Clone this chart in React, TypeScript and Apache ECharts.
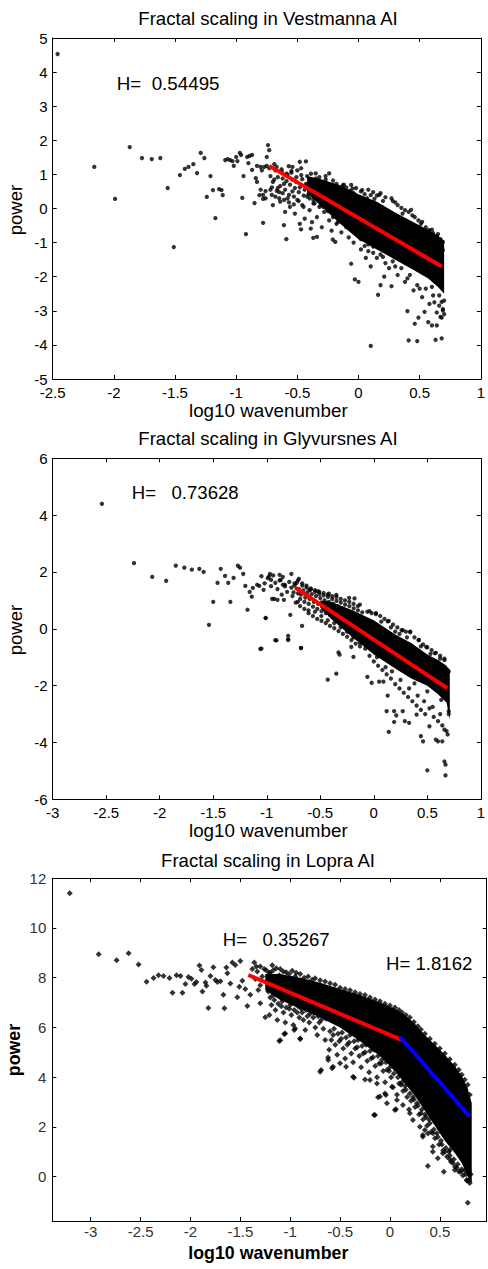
import React, { useEffect, useRef } from "react";
import * as echarts from "echarts";

// ---------- Panel 1: Vestmanna ----------
const p1Title = "Fractal scaling in Vestmanna AI";
const p1H = "H=  0.54495";
const p1XTicks = [-2.5, -2, -1.5, -1, -0.5, 0, 0.5, 1];
const p1YTicks = [-5, -4, -3, -2, -1, 0, 1, 2, 3, 4, 5];
const p1Points = [
  [-2.46, 4.53], [-2.16, 1.22], [-1.99, 0.28], [-1.87, 1.8], [-1.77, 1.48], [-1.69, 1.45], [-1.62, 1.48],
  [-1.56, 0.6], [-1.51, -1.13], [-1.46, 0.98], [-1.42, 1.16], [-1.39, 1.22], [-1.35, 1.3], [-1.32, 1.04],
  [-1.29, 1.63], [-1.26, 1.48], [-1.24, 0.34], [-1.21, 0.95], [-1.19, 0.54], [-1.17, -0.28], [-1.14, 0.57],
  [-1.12, 0.54], [-1.11, 0.39], [-1.09, 1.42], [-1.07, 1.45], [-1.05, 1.42], [-1.03, 1.39], [-1.02, 1.25],
  [-1.0, 1.51], [-0.99, 1.39], [-0.97, 1.63], [-0.96, 1.57], [-0.94, 0.95], [-0.95, 0.31], [-0.92, -0.75],
  [-0.91, 1.51], [-0.89, 1.54], [-0.9, 1.33], [-0.87, 1.57], [-0.87, 1.13], [-0.85, 0.16], [-0.84, 0.89],
  [-0.83, 0.78], [-0.83, 1.25], [-0.81, 0.39], [-0.8, 1.22], [-0.78, -0.42], [-0.78, 0.28], [-0.77, 1.22],
  [-0.76, 0.51], [-0.75, 1.51], [-0.74, 1.86], [-0.73, 1.71], [-0.75, 1.25], [-0.79, 1.12],
  [-0.59, -0.9], [-0.61, -0.49], [-0.47, -0.61], [-0.39, -0.59], [-0.37, -0.86], [-0.34, -0.83],
  [-0.21, -0.91], [-0.19, -0.98], [-0.06, -1.62], [-0.03, -2.08], [0.0, -2.15], [0.1, -4.03],
  [0.16, -2.53], [0.18, -2.25], [0.21, -2.0], [0.27, -2.28], [0.4, -3.01], [0.41, -3.87], [0.48, -3.89],
  [0.46, -3.38], [0.49, -3.2], [0.54, -3.03], [0.57, -3.33], [0.6, -3.43], [0.64, -3.43], [0.63, -3.85],
  [0.68, -3.81], [0.68, -2.74], [0.69, -2.99], [0.67, -3.18],
  [-0.48, 1.37], [-0.35, 1.03], [-0.24, 1.03], [-0.06, 0.69], [0.03, 0.54], [0.17, 0.4], [0.27, 0.3],
  [0.43, -0.04], [0.52, -0.39], [0.65, -0.92], [0.69, -1.22], [-0.57, 1.24], [-0.54, 1.22], [-0.43, 1.38],
  [-0.12, 0.7], [0.1, 0.39], [0.38, -0.05], [0.57, -0.64], [0.64, -0.82],
  [-0.72, 0.95], [-0.708, 0.62], [-0.729, 1.18], [-0.7, 0.78], [-0.688, 1.3], [-0.709, 0.4],
  [-0.68, 1.12], [-0.668, 0.52], [-0.689, 0.85], [-0.66, 0.92], [-0.648, 0.3], [-0.669, 1.22],
  [-0.64, 0.66], [-0.628, 1.08], [-0.649, 0.48], [-0.62, 0.88], [-0.608, 0.25], [-0.629, 1.15],
  [-0.6, 0.55], [-0.588, 1.02], [-0.609, 0.72], [-0.58, 0.98], [-0.568, 0.4], [-0.589, 0.8],
  [-0.56, 0.7], [-0.548, 1.1], [-0.569, 0.18], [-0.54, 0.85], [-0.528, 0.35], [-0.549, 1.05],
  [-0.52, 0.6], [-0.508, 0.92], [-0.529, 0.12], [-0.5, 1.12], [-0.488, 0.48], [-0.509, 0.78],
  [-0.48, 0.62], [-0.468, 0.98], [-0.489, 0.22], [-0.46, 0.86], [-0.448, 0.38], [-0.469, 1.18],
  [-0.44, 0.55], [-0.428, 0.72], [-0.449, 0.05], [-0.42, 0.95], [-0.408, 0.42], [-0.429, 0.68],
  [-0.4, 0.3], [-0.388, 0.82], [-0.409, 0.58], [-0.38, 0.7], [-0.368, 0.15], [-0.389, 1.02],
  [-0.36, 0.48], [-0.348, 0.88], [-0.369, 0.25], [-0.34, 0.62], [-0.328, 0.35], [-0.349, 0.8],
  [-0.32, 0.92], [-0.308, 0.1], [-0.329, 0.5], [-0.3, 0.65], [-0.288, 0.28], [-0.309, 0.78],
  [-0.28, 0.42], [-0.268, 0.85], [-0.289, 0.05], [-0.26, 0.58], [-0.248, 0.22], [-0.269, 0.95],
  [-0.24, 0.7], [-0.228, 0.38], [-0.249, -0.08], [-0.22, 0.48], [-0.208, 0.82], [-0.229, 0.15],
  [-0.2, 0.3], [-0.188, 0.62], [-0.209, -0.25], [-0.18, 0.72], [-0.168, 0.05], [-0.189, 0.45],
  [-0.16, 0.55], [-0.148, 0.25], [-0.169, -0.4], [-0.14, 0.38], [-0.128, 0.68], [-0.149, 0.02],
  [-0.12, 0.5], [-0.108, -0.15], [-0.129, 0.28], [-0.1, 0.62], [-0.088, 0.1], [-0.109, -0.35],
  [-0.08, 0.35], [-0.068, 0.52], [-0.089, -0.05], [-0.06, 0.2], [-0.048, 0.58], [-0.069, -0.5],
  [-0.04, 0.45], [-0.028, 0.0], [-0.049, 0.28], [-0.02, 0.6], [-0.008, -0.22], [-0.029, 0.38],
  [0.0, 0.3], [0.012, 0.1], [-0.009, -0.6], [0.02, 0.5], [0.032, 0.18], [0.011, -0.3],
  [-0.8, 0.55], [-0.78, 0.4], [-0.76, 0.3], [-0.72, 0.55], [-0.7, 0.1], [-0.68, 0.35], [-0.66, 0.6],
  [-0.64, 0.2], [-0.62, 0.45], [-0.6, -0.1], [-0.58, 0.3], [-0.56, 0.05], [-0.54, 0.5], [-0.52, -0.15],
  [-0.5, 0.25], [-0.48, -0.45], [-0.46, 0.1], [-0.44, -0.3], [-0.42, 0.35], [-0.4, -0.05], [-0.38, -0.4],
  [-0.36, 0.15], [-0.34, -0.25], [-0.32, 0.05], [-0.3, -0.55], [-0.28, -0.1], [-0.26, 0.1], [-0.24, -0.35],
  [-0.22, -0.65], [-0.2, -0.15], [-0.18, -0.45], [-0.16, 0.0], [-0.14, -0.7], [-0.12, -0.3], [-0.1, -0.55],
  [-0.08, -0.85], [-0.06, -0.2], [-0.04, -1.0], [-0.02, -0.6], [0.0, -0.35], [0.02, -1.2], [0.04, -0.8],
  [0.06, -1.45], [0.08, -1.05], [0.1, -1.7], [0.12, -1.3],
  [0.05, 0.42], [0.08, 0.55], [0.12, 0.48], [0.15, 0.38], [0.18, 0.45], [0.22, 0.33], [0.28, 0.22],
  [0.32, 0.1], [0.35, 0.02], [0.41, -0.1], [0.46, -0.25], [0.49, -0.35], [0.55, -0.55], [0.58, -0.64],
  [0.61, -0.72], [0.67, -0.9], [0.69, -0.98], [0.07, 0.3], [0.13, 0.28], [0.2, 0.22], [0.3, 0.18],
  [0.36, -0.15], [0.44, -0.2], [0.51, -0.45], [0.6, -0.62], [0.65, -0.75],
  [0.02, -0.9], [0.05, -1.1], [0.08, -1.25], [0.15, -1.45], [0.18, -1.35], [0.22, -1.6], [0.25, -1.75],
  [0.28, -1.55], [0.32, -1.95], [0.35, -1.75], [0.38, -2.15], [0.42, -1.95], [0.45, -2.4], [0.48, -2.25],
  [0.52, -2.6], [0.55, -2.35], [0.58, -2.8], [0.61, -2.55], [0.64, -3.05], [0.66, -2.85], [0.68, -3.2],
  [0.69, -2.95], [0.7, -3.1], [0.12, -1.12], [0.2, -1.42], [0.3, -1.7], [0.4, -2.05], [0.5, -2.35],
  [0.6, -2.3], [0.66, -2.55], [0.7, -2.7], [0.62, -2.75]
];
const p1CoreX = [-0.42, -0.3, -0.15, 0.0, 0.15, 0.3, 0.45, 0.57, 0.65, 0.7];
const p1CoreTop = [0.95, 0.85, 0.68, 0.42, 0.2, -0.12, -0.4, -0.63, -0.8, -0.95];
const p1CoreBottom = [0.45, 0.05, -0.45, -0.9, -1.2, -1.5, -1.8, -2.05, -2.3, -2.5];
const p1Fit = [[-0.73, 1.25], [0.68, -1.7]];

// ---------- Panel 2: Glyvursnes ----------
const p2Title = "Fractal scaling in Glyvursnes AI";
const p2H = "H=   0.73628";
const p2XTicks = [-3, -2.5, -2, -1.5, -1, -0.5, 0, 0.5, 1];
const p2YTicks = [-6, -4, -2, 0, 2, 4, 6];
const p2Points = [
  [-2.54, 4.4], [-2.24, 2.31], [-2.07, 1.83], [-1.94, 1.69], [-1.85, 2.22], [-1.77, 2.15], [-1.7, 2.08],
  [-1.63, 2.11], [-1.59, 2.0], [-1.54, 0.14], [-1.5, 0.95], [-1.46, 1.62], [-1.43, 2.11], [-1.39, 1.86],
  [-1.36, 1.62], [-1.34, 0.95], [-1.31, 1.79], [-1.27, 2.22], [-1.25, 2.15], [-1.22, 1.93], [-1.2, 1.51],
  [-1.18, 0.67], [-1.16, 1.3], [-1.14, 1.13], [-1.13, 1.44], [-1.09, 1.55], [-1.07, 1.51], [-1.05, -0.7],
  [-1.03, 1.37], [-1.01, 0.38], [-0.98, 1.84], [-0.97, 1.93], [-0.96, 1.72], [-0.95, 1.05], [-0.93, 1.05],
  [-0.91, -0.41], [-0.9, 1.02], [-0.88, 1.9], [-0.87, 1.72], [-0.85, 1.55], [-0.84, 1.02], [-0.83, 1.49],
  [-0.8, -0.25], [-0.8, -0.39], [-0.78, 0.49], [-0.77, 1.93], [-0.75, 1.28], [-0.74, 1.52], [-0.7, 1.76],
  [-0.68, -0.68], [-0.67, 0.1],
  [-0.6, 1.37], [-0.35, 1.19], [-0.18, 1.07], [0.02, 0.55], [0.2, -0.1], [0.34, -0.1], [0.42, -0.39],
  [0.57, -0.86], [0.66, -1.1], [0.69, -1.45], [-0.52, 1.32], [-0.42, 1.24], [-0.23, 1.09], [-0.13, 0.85],
  [-0.04, 0.62], [0.13, 0.26], [0.27, -0.05], [0.49, -0.64],
  [-1.06, -0.71], [-1.01, 0.38], [-0.92, -0.4], [-0.8, -0.38], [-0.68, -0.67], [-0.43, -1.79], [-0.35, -1.58],
  [-0.32, -0.91], [-0.33, -0.83], [-0.21, -0.64], [-0.19, -0.99], [-0.06, -1.69], [-0.02, -1.9], [0.05, -1.86],
  [0.09, -1.86], [0.13, -2.35], [0.12, -2.9], [0.14, -3.63], [0.19, -2.9], [0.19, -3.28], [0.21, -3.05],
  [0.27, -2.9], [0.29, -3.25], [0.33, -3.31], [0.4, -3.02], [0.44, -3.78], [0.46, -3.96], [0.5, -4.98],
  [0.52, -3.43], [0.58, -3.9], [0.6, -3.96], [0.64, -3.96], [0.66, -4.67], [0.67, -4.78], [0.67, -5.16],
  [0.69, -3.72], [0.66, -3.55],
  [-0.72, 1.62], [-0.708, 1.25], [-0.729, 0.92], [-0.7, 1.4], [-0.688, 1.05], [-0.709, 1.7],
  [-0.68, 1.2], [-0.668, 1.52], [-0.689, 0.8], [-0.66, 1.35], [-0.648, 0.95], [-0.669, 1.6],
  [-0.64, 1.1], [-0.628, 1.45], [-0.649, 0.7], [-0.62, 1.28], [-0.608, 0.88], [-0.629, 1.52],
  [-0.6, 1.05], [-0.588, 1.38], [-0.609, 0.55], [-0.58, 1.22], [-0.568, 0.78], [-0.589, 1.42],
  [-0.56, 0.95], [-0.548, 1.3], [-0.569, 0.45], [-0.54, 1.15], [-0.528, 0.7], [-0.549, 1.36],
  [-0.52, 0.88], [-0.508, 1.22], [-0.529, 0.35], [-0.5, 1.08], [-0.488, 0.62], [-0.509, 1.3],
  [-0.48, 0.82], [-0.468, 1.18], [-0.489, 0.28], [-0.46, 1.0], [-0.448, 0.55], [-0.469, 1.26],
  [-0.44, 0.75], [-0.428, 1.12], [-0.449, 0.2], [-0.42, 0.95], [-0.408, 0.48], [-0.429, 1.2],
  [-0.4, 0.68], [-0.388, 1.05], [-0.409, 0.1], [-0.38, 0.88], [-0.368, 0.4], [-0.389, 1.15],
  [-0.36, 0.6], [-0.348, 0.98], [-0.369, 0.02], [-0.34, 0.8], [-0.328, 0.32], [-0.349, 1.12],
  [-0.32, 0.52], [-0.308, 0.92], [-0.329, -0.08], [-0.3, 0.72], [-0.288, 0.25], [-0.309, 1.05],
  [-0.28, 0.45], [-0.268, 0.85], [-0.289, -0.18], [-0.26, 0.65], [-0.248, 0.18], [-0.269, 1.0],
  [-0.24, 0.38], [-0.228, 0.8], [-0.249, -0.28], [-0.22, 0.58], [-0.208, 0.1], [-0.229, 0.95],
  [-0.2, 0.3], [-0.188, 0.72], [-0.209, -0.4], [-0.18, 0.5], [-0.168, 0.02], [-0.189, 0.88],
  [-0.16, 0.22], [-0.148, 0.65], [-0.169, -0.52], [-0.14, 0.42], [-0.128, -0.08], [-0.149, 0.8],
  [-0.12, 0.15], [-0.108, 0.58], [-0.129, -0.62],
  [-1.05, 1.85], [-1.02, 1.6], [-0.99, 1.78], [-0.96, 1.5], [-0.94, 1.88], [-0.92, 1.62], [-0.9, 1.4],
  [-0.88, 1.7], [-0.86, 1.2], [-0.85, 1.83], [-0.83, 1.55], [-0.81, 1.3], [-0.79, 1.65], [-0.77, 1.45],
  [-0.76, 1.15], [-0.74, 1.6], [-0.71, 0.95], [-0.61, 0.65], [-0.55, 0.6], [-0.49, 0.45], [-0.43, 0.3],
  [-0.37, 0.2], [-0.31, 0.05], [-0.25, -0.1], [-0.19, -0.3], [-0.13, -0.5], [-0.1, 0.0], [-0.08, -0.7],
  [-0.06, 0.6], [-0.04, -0.95], [-0.02, 0.55], [0.0, -1.15], [0.02, 0.52], [0.04, -1.3], [0.06, 0.45],
  [0.08, -1.45], [0.1, 0.35], [0.12, -1.6], [0.14, 0.28], [0.16, -1.75], [0.18, 0.15], [0.2, -1.95],
  [0.22, 0.05], [0.24, -2.1], [0.26, -0.05], [0.28, -2.25], [0.3, -0.1], [0.32, -2.4], [0.34, -0.12],
  [0.36, -2.55], [0.38, -0.3], [0.4, -2.7], [0.42, -0.4], [0.44, -2.85], [0.46, -0.55], [0.48, -3.0],
  [0.5, -0.65], [0.52, -2.8], [0.54, -0.75], [0.56, -3.1], [0.58, -0.85], [0.6, -3.25], [0.62, -0.95],
  [0.64, -3.4], [0.66, -1.05], [0.68, -3.6], [0.7, -1.5], [0.7, -3.0], [0.69, -2.5], [0.67, -2.2],
  [0.03, -1.0], [0.11, -1.35], [0.17, -1.5], [0.25, -1.8], [0.33, -2.1], [0.41, -2.35], [0.47, -2.55],
  [0.55, -2.75], [0.62, -3.0], [0.07, 0.25], [0.16, 0.05], [0.24, -0.18], [0.31, -0.3], [0.44, -0.62],
  [0.53, -0.88], [0.62, -1.05], [0.38, -1.92], [0.5, -2.2], [0.63, -2.5], [0.7, -2.9]
];
const p2CoreX = [-0.5, -0.4, -0.2, 0.0, 0.2, 0.35, 0.5, 0.6, 0.68, 0.71];
const p2CoreTop = [1.0, 0.95, 0.65, 0.3, -0.2, -0.5, -0.9, -1.1, -1.3, -1.5];
const p2CoreBottom = [0.75, 0.35, -0.3, -0.9, -1.4, -1.75, -2.0, -2.3, -2.6, -3.2];
const p2Fit = [[-0.735, 1.45], [0.686, -2.09]];

// ---------- Panel 3: Lopra ----------
const p3Title = "Fractal scaling in Lopra AI";
const p3H1 = "H=   0.35267";
const p3H2 = "H= 1.8162";
const p3XTicks = [-3, -2.5, -2, -1.5, -1, -0.5, 0, 0.5];
const p3YTicks = [0, 2, 4, 6, 8, 10, 12];
const p3Points = [
  [-3.21, 11.39], [-2.92, 8.94], [-2.74, 8.7], [-2.62, 8.98], [-2.52, 8.53], [-2.44, 7.84], [-2.37, 7.99],
  [-2.32, 8.1], [-2.27, 8.07], [-2.21, 7.99], [-2.18, 7.4], [-2.14, 8.1], [-2.1, 8.07], [-2.08, 7.4],
  [-2.05, 7.75], [-2.02, 8.03], [-1.99, 7.96], [-1.96, 7.75], [-1.94, 7.83], [-1.91, 8.49], [-1.89, 8.31],
  [-1.88, 7.45], [-1.85, 7.81], [-1.84, 7.68], [-1.82, 6.78], [-1.8, 8.07], [-1.77, 8.42], [-1.75, 7.91],
  [-1.73, 7.83], [-1.7, 7.86], [-1.67, 7.31], [-1.66, 6.77], [-1.64, 8.41], [-1.63, 8.18], [-1.6, 7.77],
  [-1.58, 8.61], [-1.55, 8.51], [-1.53, 7.21], [-1.51, 7.64], [-1.5, 8.67], [-1.48, 7.88], [-1.45, 7.55],
  [-1.43, 6.86], [-1.4, 7.31], [-1.36, 8.61], [-1.34, 8.45], [-1.32, 7.51], [-1.3, 6.97], [-1.25, 6.41],
  [-1.2, 8.2], [-1.16, 7.53], [-1.11, 5.46], [-1.06, 5.74], [-1.0, 7.91], [-0.96, 5.9], [-0.9, 5.54],
  [-0.69, 4.29], [-0.58, 4.36], [-0.62, 4.79], [-0.36, 3.98], [-0.25, 3.91], [-0.16, 2.48], [-0.12, 3.19],
  [-0.04, 3.28], [0.06, 2.71], [0.38, 0.43], [0.48, 0.74], [0.54, 0.2], [0.65, 0.27], [0.74, 0.67],
  [0.78, -1.05], [0.77, -0.13], [0.79, -0.16], [0.43, 1.0], [0.33, 1.68], [0.35, 1.88], [0.6, 0.7],
  [-1.1, 5.49], [-1.05, 5.76], [-0.9, 5.56], [-0.95, 5.96], [-0.7, 4.22], [-0.62, 4.69], [-0.57, 4.42],
  [-0.5, 4.56], [-0.44, 4.42], [-0.37, 4.02], [-0.2, 3.89], [-0.13, 3.75], [-0.1, 3.22], [-0.05, 3.35],
  [-0.03, 2.95], [0.02, 3.62], [0.05, 2.68], [-0.15, 2.48], [0.07, 3.08], [0.13, 2.88], [0.2, 2.55],
  [0.23, 2.28], [0.3, 2.01], [0.33, 1.61], [0.38, 1.74], [0.43, 1.21], [0.53, 0.94], [0.6, 1.07],
  [-1.38, 8.35], [-1.35, 7.95], [-1.33, 8.25], [-1.3, 7.7], [-1.28, 8.05], [-1.26, 8.35], [-1.24, 7.85],
  [-1.22, 7.45], [-1.21, 8.2], [-1.19, 7.65], [-1.17, 8.3], [-1.15, 7.95], [-1.13, 7.3], [-1.11, 8.1],
  [-1.09, 7.55], [-1.07, 8.25], [-1.01, 8.15], [-0.95, 8.05],
  [-1.2, 7.2], [-1.188, 6.9], [-1.209, 6.5], [-1.16, 7.1], [-1.148, 6.7], [-1.169, 7.3],
  [-1.12, 6.95], [-1.108, 7.25], [-1.129, 6.3], [-1.08, 7.05], [-1.068, 6.6], [-1.089, 6.85],
  [-1.04, 6.8], [-1.028, 7.1], [-1.049, 6.2], [-1.0, 6.9], [-0.988, 6.5], [-1.009, 6.75],
  [-0.96, 6.7], [-0.948, 6.95], [-0.969, 6.1], [-0.92, 6.85], [-0.908, 6.4], [-0.929, 6.6],
  [-0.88, 6.6], [-0.868, 6.3], [-0.889, 6.75], [-0.84, 6.7], [-0.828, 6.45], [-0.849, 5.9],
  [-0.8, 6.55], [-0.788, 6.75], [-0.809, 6.2], [-0.76, 6.6], [-0.748, 6.0], [-0.769, 6.4],
  [-0.72, 6.45], [-0.708, 6.2], [-0.729, 5.7], [-0.68, 6.5], [-0.668, 5.95], [-0.689, 6.3],
  [-0.64, 6.35], [-0.628, 6.55], [-0.649, 5.5],
  [-0.6, 5.85], [-0.588, 5.5], [-0.609, 5.1], [-0.56, 5.95], [-0.548, 5.3], [-0.569, 5.7],
  [-0.52, 5.75], [-0.508, 5.45], [-0.529, 4.9], [-0.48, 5.8], [-0.468, 5.15], [-0.489, 5.55],
  [-0.44, 5.6], [-0.428, 5.3], [-0.449, 4.75], [-0.4, 5.7], [-0.388, 4.95], [-0.409, 5.4],
  [-0.36, 5.45], [-0.348, 5.15], [-0.369, 4.6], [-0.32, 5.5], [-0.308, 4.85], [-0.329, 5.2],
  [-0.28, 5.25], [-0.268, 4.95], [-0.289, 4.4], [-0.24, 5.3], [-0.228, 4.65], [-0.249, 5.0],
  [-0.2, 5.05], [-0.188, 4.75], [-0.209, 4.2], [-0.16, 5.1], [-0.148, 4.45], [-0.169, 4.8],
  [-0.12, 4.85], [-0.108, 4.55], [-0.129, 4.0], [-0.08, 4.7], [-0.068, 4.25], [-0.089, 4.55],
  [-0.04, 4.6], [-0.028, 4.3], [-0.049, 3.8], [0.0, 4.4], [0.012, 4.0], [-0.009, 4.25],
  [0.04, 4.15], [0.052, 4.35], [0.031, 3.6], [0.08, 4.0], [0.092, 3.75], [0.071, 3.3],
  [0.12, 3.8], [0.132, 3.45], [0.111, 3.7], [0.16, 3.5], [0.172, 3.2], [0.151, 3.65],
  [0.2, 3.35], [0.212, 3.05], [0.191, 2.7], [0.24, 3.1], [0.252, 2.8], [0.231, 3.2],
  [0.28, 2.85], [0.292, 2.5], [0.271, 2.95], [0.32, 2.7], [0.332, 2.3], [0.311, 2.55],
  [0.36, 2.4], [0.372, 2.05], [0.351, 2.5], [0.4, 2.15], [0.412, 1.8], [0.391, 2.3],
  [0.44, 1.9], [0.452, 1.55], [0.431, 1.75], [0.48, 1.6], [0.492, 1.3], [0.471, 1.75],
  [0.52, 1.3], [0.532, 1.05], [0.511, 1.45], [0.56, 1.15], [0.572, 0.8], [0.551, 1.0],
  [0.6, 0.85], [0.612, 0.6], [0.591, 1.0], [0.64, 0.7], [0.652, 0.4], [0.631, 0.55],
  [0.68, 0.5], [0.692, 0.2], [0.671, 0.35], [0.72, 0.3], [0.732, 0.05], [0.711, 0.2],
  [0.76, 0.1], [0.772, -0.15], [0.751, 0.25], [0.8, -0.25], [0.81, 0.1], [0.79, 0.3],
  [-1.3, 8.45], [-1.18, 8.5], [-1.1, 8.35], [-0.98, 8.28], [-0.9, 8.15], [-0.82, 8.05], [-0.75, 7.98],
  [-0.65, 7.85], [-0.55, 7.72], [-0.45, 7.55], [-0.35, 7.42], [-0.25, 7.3], [-0.15, 7.12], [-0.05, 6.95],
  [0.05, 6.8], [0.12, 6.6], [0.2, 6.4], [0.28, 6.05], [0.35, 5.75], [0.45, 5.35], [0.55, 4.95],
  [0.65, 4.5], [0.72, 4.1], [0.78, 3.7], [-1.24, 8.3], [-1.14, 8.38], [-1.04, 8.22], [-0.94, 8.2],
  [-0.86, 8.0], [-0.78, 7.92], [-0.7, 7.9], [-0.6, 7.78], [-0.5, 7.6], [-0.4, 7.5], [-0.3, 7.35],
  [-0.2, 7.2], [-0.1, 7.05], [0.0, 6.88], [0.09, 6.7], [0.16, 6.5], [0.24, 6.22], [0.31, 5.92],
  [0.4, 5.55], [0.5, 5.15], [0.6, 4.72], [0.69, 4.3], [0.75, 3.9], [0.8, 3.3]
];
const p3CoreX = [-1.25, -1.1, -0.9, -0.7, -0.5, -0.3, -0.1, 0.05, 0.15, 0.25, 0.35, 0.45, 0.55, 0.65, 0.72, 0.78, 0.82];
const p3CoreTop = [8.15, 8.15, 8.0, 7.8, 7.55, 7.3, 7.0, 6.75, 6.5, 6.15, 5.7, 5.3, 4.9, 4.45, 4.05, 3.55, 2.95];
const p3CoreBottom = [7.5, 7.1, 6.75, 6.4, 6.0, 5.45, 4.85, 4.25, 3.75, 3.25, 2.65, 2.05, 1.45, 0.95, 0.55, 0.0, -0.25];
const p3FitRed = [[-1.42, 8.11], [0.117, 5.5]];
const p3FitBlue = [[0.1, 5.63], [0.8, 2.41]];

const FONT = "Liberation Sans, Arial, sans-serif";

function axes(gi: number, xMin: number, xMax: number, yMin: number, yMax: number,
  xTicks: number[], yTicks: number[], labelColor: string, xMargin: number, yMargin: number) {
  const tick = { inside: true, length: 4, lineStyle: { color: "#000", width: 1 } };
  const line = { onZero: false, lineStyle: { color: "#000", width: 1 } };
  const lbl = { color: labelColor, fontSize: 15, fontFamily: FONT };
  const xs = [
    { type: "value", gridIndex: gi, position: "bottom", min: xMin, max: xMax, axisLine: line,
      axisTick: { ...tick, customValues: xTicks }, axisLabel: { ...lbl, margin: xMargin, customValues: xTicks },
      splitLine: { show: false } },
    { type: "value", gridIndex: gi, position: "top", min: xMin, max: xMax, axisLine: line,
      axisTick: { ...tick, customValues: xTicks }, axisLabel: { show: false }, splitLine: { show: false } },
  ];
  const ys = [
    { type: "value", gridIndex: gi, position: "left", min: yMin, max: yMax, axisLine: line,
      axisTick: { ...tick, customValues: yTicks }, axisLabel: { ...lbl, margin: yMargin, customValues: yTicks },
      splitLine: { show: false } },
    { type: "value", gridIndex: gi, position: "right", min: yMin, max: yMax, axisLine: line,
      axisTick: { ...tick, customValues: yTicks }, axisLabel: { show: false }, splitLine: { show: false } },
  ];
  return { xs, ys };
}

function coreSeries(gi: number, xs: number[], top: number[], bottom: number[]) {
  return {
    type: "custom", xAxisIndex: gi * 2, yAxisIndex: gi * 2, silent: true, z: 2,
    data: [[xs[0], top[0]]],
    renderItem: (_params: any, api: any) => {
      const pts: number[][] = [];
      for (let i = 0; i < xs.length; i++) pts.push(api.coord([xs[i], top[i]]));
      for (let i = xs.length - 1; i >= 0; i--) pts.push(api.coord([xs[i], bottom[i]]));
      return { type: "polygon", shape: { points: pts }, style: { fill: "#000" } };
    },
  };
}

function scatterSeries(gi: number, pts: number[][], symbol: string, size: number) {
  return { type: "scatter", xAxisIndex: gi * 2, yAxisIndex: gi * 2, data: pts, symbol, symbolSize: size,
    itemStyle: { color: "#000" }, silent: true, z: 3 };
}

function lineSeries(gi: number, pts: number[][], color: string) {
  return { type: "line", xAxisIndex: gi * 2, yAxisIndex: gi * 2, data: pts, symbol: "none",
    lineStyle: { color, width: 4 }, silent: true, z: 5 };
}

function txt(text: string, x: number, y: number, size: number, align = "center", weight = "normal", rot = 0) {
  return { type: "text", x, y, rotation: rot, silent: true, z: 10,
    style: { text, fill: "#000", font: `${weight} ${size}px ${FONT}`, textAlign: align, textVerticalAlign: "middle" } };
}

export default function App() {
  const ref = useRef<HTMLDivElement>(null);
  useEffect(() => {
    if (!ref.current) return;
    const chart = echarts.init(ref.current, null, { renderer: "svg" });
    const a1 = axes(0, -2.5, 1, -5, 5, p1XTicks, p1YTicks, "#000", 6, 5);
    const a2 = axes(1, -3, 1, -6, 6, p2XTicks, p2YTicks, "#000", 6, 5);
    const a3 = axes(2, -3.385, 0.97, -1.78, 12, p3XTicks, p3YTicks, "#333", 3, 6);
    chart.setOption({
      animation: false,
      grid: [
        { left: 52.7, top: 38, width: 434, height: 341 },
        { left: 52.7, top: 458.3, width: 434, height: 341 },
        { left: 52.3, top: 878.2, width: 434.4, height: 342.8 },
      ],
      xAxis: [...a1.xs, ...a2.xs, ...a3.xs],
      yAxis: [...a1.ys, ...a2.ys, ...a3.ys],
      series: [
        coreSeries(0, p1CoreX, p1CoreTop, p1CoreBottom),
        scatterSeries(0, p1Points, "circle", 4.3),
        lineSeries(0, p1Fit, "#ff0000"),
        coreSeries(1, p2CoreX, p2CoreTop, p2CoreBottom),
        scatterSeries(1, p2Points, "circle", 4.3),
        lineSeries(1, p2Fit, "#ff0000"),
        coreSeries(2, p3CoreX, p3CoreTop, p3CoreBottom),
        scatterSeries(2, p3Points, "diamond", 6),
        lineSeries(2, p3FitRed, "#ff0000"),
        lineSeries(2, p3FitBlue, "#0000ff"),
      ],
      graphic: [
        txt(p1Title, 268, 18.5, 18.6),
        txt("log10 wavenumber", 268.3, 410, 18.8),
        txt("power", 15.8, 210, 18.6, "center", "normal", Math.PI / 2),
        txt(p1H, 116.7, 83, 18.8, "left"),
        txt(p2Title, 268, 438.5, 18.6),
        txt("log10 wavenumber", 268.3, 830, 18.8),
        txt("power", 15.8, 630, 18.6, "center", "normal", Math.PI / 2),
        txt(p2H, 131.7, 492.2, 18.6, "left"),
        txt(p3Title, 268, 860, 18.6),
        txt("log10 wavenumber", 268.3, 1252.7, 17.8, "center", "bold"),
        txt("power", 14, 1050, 17.8, "center", "bold", Math.PI / 2),
        txt(p3H1, 222.7, 939.7, 18.6, "left"),
        txt(p3H2, 386, 963.7, 18.6, "left"),
      ],
    });
    return () => chart.dispose();
  }, []);
  return <div ref={ref} style={{ position: "absolute", left: 0, top: 0, width: 488, height: 1269 }} />;
}
